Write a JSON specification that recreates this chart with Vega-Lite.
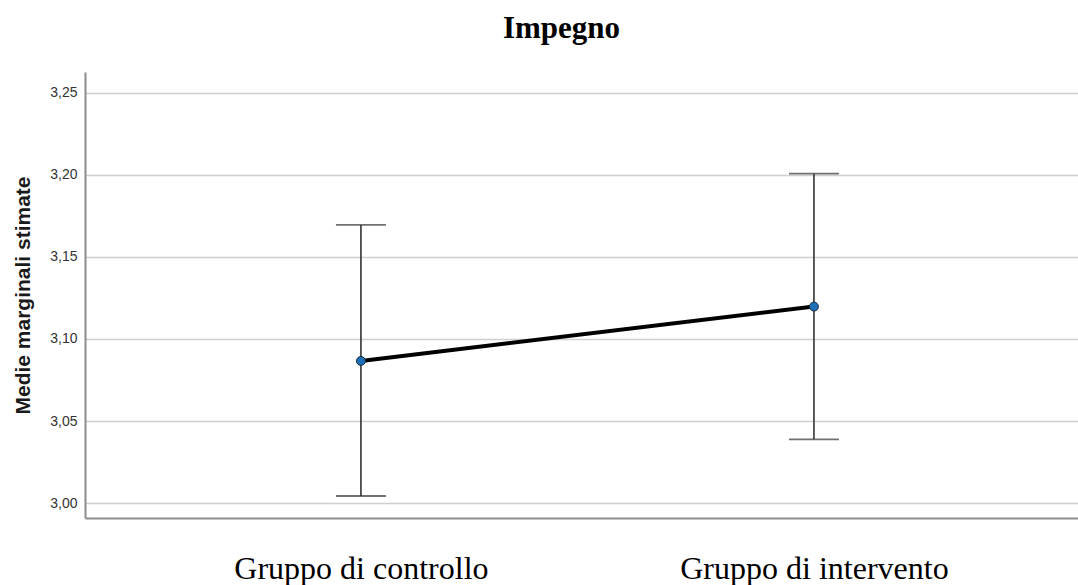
{
  "$schema": "https://vega.github.io/schema/vega-lite/v6.json",
  "autosize": {"type": "none"},
  "width": 993,
  "height": 446,
  "padding": {"left": 85, "top": 72, "right": 0, "bottom": 67},
  "background": "white",
  "title": {
    "text": "Impegno",
    "font": "Liberation Serif",
    "fontSize": 31,
    "fontWeight": "bold",
    "color": "black",
    "anchor": "middle",
    "dx": -20,
    "offset": 27
  },
  "config": {"view": {"stroke": null}},
  "data": {
    "values": [
      {"gruppo": "Gruppo di controllo", "media": 3.0866, "inf": 3.0044, "sup": 3.1694},
      {"gruppo": "Gruppo di intervento", "media": 3.1197, "inf": 3.0389, "sup": 3.2006}
    ]
  },
  "encoding": {
    "x": {
      "field": "gruppo",
      "type": "nominal",
      "sort": null,
      "scale": {"type": "point", "padding": 0.596, "align": 0.511},
      "axis": {
        "title": null,
        "labelAngle": 0,
        "labelFont": "Liberation Serif",
        "labelFontSize": 32,
        "labelColor": "black",
        "labelBaseline": "top",
        "labelPadding": 35,
        "labelLimit": 0,
        "ticks": false,
        "grid": false,
        "domainColor": "#8c8c8c",
        "domainWidth": 2
      }
    }
  },
  "layer": [
    {
      "mark": {"type": "rule", "color": "#333333", "strokeWidth": 1.6},
      "encoding": {
        "y": {
          "field": "inf",
          "type": "quantitative",
          "scale": {"domain": [2.991, 3.2625], "nice": false, "zero": false},
          "axis": {
            "title": "Medie marginali stimate",
            "titleFont": "Liberation Sans",
            "titleFontSize": 21,
            "titleFontWeight": "bold",
            "titleColor": "#1a1a1a",
            "titlePadding": 16,
            "values": [3.0, 3.05, 3.1, 3.15, 3.2, 3.25],
            "labelExpr": "replace(format(datum.value, '.2f'), '.', ',')",
            "labelFont": "Liberation Sans",
            "labelFontSize": 14,
            "labelColor": "#333333",
            "labelPadding": 8,
            "ticks": false,
            "grid": true,
            "gridColor": "#cfcfcf",
            "gridWidth": 1.6,
            "domainColor": "#8c8c8c",
            "domainWidth": 2
          }
        },
        "y2": {"field": "sup"}
      }
    },
    {
      "mark": {"type": "tick", "color": "#333333", "thickness": 1.8, "size": 50},
      "encoding": {"y": {"field": "inf", "type": "quantitative"}}
    },
    {
      "mark": {"type": "tick", "color": "#333333", "thickness": 1.8, "size": 50},
      "encoding": {"y": {"field": "sup", "type": "quantitative"}}
    },
    {
      "mark": {"type": "line", "color": "black", "strokeWidth": 4},
      "encoding": {"y": {"field": "media", "type": "quantitative"}}
    },
    {
      "mark": {"type": "point", "filled": true, "fill": "#1f6fb8", "stroke": "#1a2a3a", "strokeWidth": 1, "size": 80, "opacity": 1},
      "encoding": {"y": {"field": "media", "type": "quantitative"}}
    }
  ]
}
